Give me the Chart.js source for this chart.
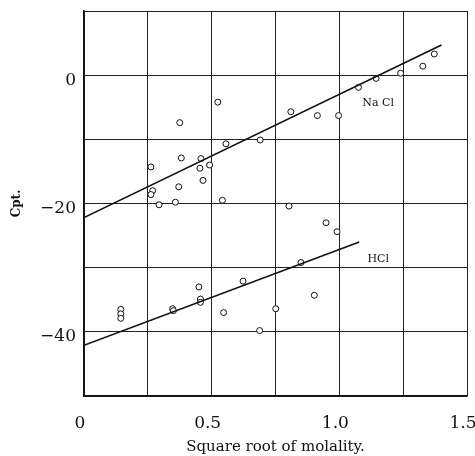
<!DOCTYPE html>
<html>
<head>
<meta charset="utf-8">
<script src="https://cdn.jsdelivr.net/npm/chart.js@4/dist/chart.umd.min.js"></script>
<style>
  html, body { margin: 0; padding: 0; background: #fff; }
  #wrap { width: 475px; height: 456px; }
</style>
</head>
<body>
<div id="wrap"><canvas id="chart"></canvas></div>
<script>
// NaCl observations
const naclX = [0.524, 0.375, 0.556, 0.69, 0.381, 0.458, 0.262, 0.454, 0.492, 0.466, 0.371, 0.269,
               0.262, 0.294, 0.358, 0.542, 0.81, 0.914, 0.997, 1.075, 1.144, 1.24, 1.327, 1.372, 0.803];
const naclY = [-4.2, -7.4, -10.7, -10.1, -12.9, -13.0, -14.3, -14.5, -14.0, -16.4, -17.4, -18.0,
               -18.6, -20.2, -19.8, -19.5, -5.7, -6.3, -6.3, -1.9, -0.5, 0.3, 1.4, 3.3, -20.4];

// HCl observations
const hclX = [0.144, 0.144, 0.144, 0.347, 0.350, 0.45, 0.456, 0.456, 0.547, 0.623, 0.688, 0.751,
              0.85, 0.902, 0.948, 0.991];
const hclY = [-36.5, -37.2, -37.9, -36.4, -36.7, -33.0, -34.9, -35.4, -37.0, -32.1, -39.8, -36.4,
              -29.2, -34.3, -23.0, -24.4];

// fitted lines (end points)
const naclLineX = [0, 1.40];
const naclLineY = [-22.2, 4.7];
const hclLineX = [0, 1.078];
const hclLineY = [-42.1, -26.0];

// curve labels
const curveLabels = [
  { text: "Na Cl", x: 1.09, y: -4.3 },
  { text: "HCl", x: 1.11, y: -28.7 },
];

const serif = "'DejaVu Serif', 'Liberation Serif', serif";
const toPts = (xs, ys) => xs.map((x, i) => ({ x, y: ys[i] }));

const curveLabelPlugin = {
  id: "curveLabels",
  afterDatasetsDraw(chart) {
    const { ctx, scales } = chart;
    ctx.save();
    ctx.fillStyle = "#111";
    ctx.font = "11px " + serif;
    ctx.textBaseline = "middle";
    curveLabels.forEach((l) => {
      ctx.fillText(l.text, scales.x.getPixelForValue(l.x), scales.y.getPixelForValue(l.y));
    });
    ctx.restore();
  },
};

const pointStyle = {
  type: "scatter",
  showLine: false,
  pointRadius: 3,
  pointBorderWidth: 1,
  pointBorderColor: "#111",
  pointBackgroundColor: "#fff",
};
const lineStyle = {
  type: "line",
  borderColor: "#111",
  borderWidth: 1.6,
  pointRadius: 0,
  fill: false,
};

new Chart(document.getElementById("chart"), {
  data: {
    datasets: [
      { ...lineStyle, label: "NaCl fit", data: toPts(naclLineX, naclLineY) },
      { ...lineStyle, label: "HCl fit", data: toPts(hclLineX, hclLineY) },
      { ...pointStyle, label: "NaCl", data: toPts(naclX, naclY) },
      { ...pointStyle, label: "HCl", data: toPts(hclX, hclY) },
    ],
  },
  options: {
    responsive: true,
    maintainAspectRatio: false,
    animation: false,
    layout: { padding: { top: 11, right: 8, left: 0, bottom: 0 } },
    plugins: {
      legend: { display: false },
      tooltip: { enabled: false },
    },
    scales: {
      x: {
        type: "linear",
        min: 0,
        max: 1.5,
        grid: { color: "#222", lineWidth: 1, drawTicks: false },
        border: { color: "#111", width: 1.5 },
        ticks: {
          stepSize: 0.25,
          color: "#111",
          padding: 17,
          labelOffset: -4,
          maxRotation: 0,
          font: { family: serif, size: 17 },
          callback: (v) => {
            if (Math.abs(v * 2 - Math.round(v * 2)) > 1e-6) return "";
            return v === 0 ? "0" : v.toFixed(1);
          },
        },
        title: {
          display: true,
          text: "Square root of molality.",
          color: "#111",
          padding: { top: 0, bottom: 0 },
          font: { family: serif, size: 15 },
        },
        afterFit: (scale) => {
          scale.height = 60;
          scale.paddingLeft = 0;
          scale.paddingRight = 0;
        },
      },
      y: {
        type: "linear",
        min: -50,
        max: 10,
        grid: { color: "#222", lineWidth: 1, drawTicks: false },
        border: { color: "#111", width: 1.5 },
        ticks: {
          stepSize: 10,
          color: "#111",
          padding: 8,
          font: { family: serif, size: 17, lineHeight: 0.6 },
          callback: (v) => {
            if (v > 0 || v % 20 !== 0) return "";
            // second line sits a little below the grid line, as in the print
            return ["", v === 0 ? "0" : "\u2212" + Math.abs(v)];
          },
        },
        title: {
          display: true,
          text: "Cpt.",
          color: "#111",
          padding: { top: 10, bottom: 4 },
          font: { family: serif, size: 12, weight: "bold" },
        },
        afterFit: (scale) => {
          scale.width = 84;
          scale.paddingTop = 0;
          scale.paddingBottom = 0;
        },
      },
    },
  },
  plugins: [curveLabelPlugin],
});
</script>
</body>
</html>
